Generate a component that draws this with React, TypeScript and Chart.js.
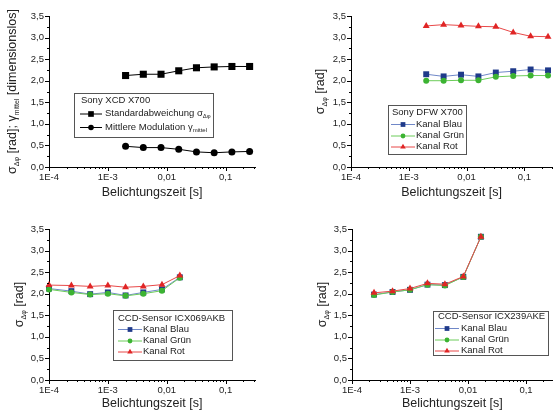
import React, { useEffect, useRef } from 'react';
import { Chart, registerables } from 'chart.js';
Chart.register(...registerables);

const FONT = "'Liberation Sans', Arial, Helvetica, sans-serif";

// ---------- data ----------
const timesSony = [0.002, 0.004, 0.008, 0.016, 0.032, 0.064, 0.128, 0.256];
const xcdStdDev = [2.12, 2.15, 2.15, 2.23, 2.30, 2.32, 2.33, 2.33];
const xcdModulation = [0.48, 0.45, 0.45, 0.41, 0.35, 0.33, 0.35, 0.36];
const dfwBlue = [2.15, 2.10, 2.14, 2.10, 2.19, 2.22, 2.26, 2.24];
const dfwGreen = [2.00, 2.00, 2.01, 2.01, 2.09, 2.11, 2.12, 2.12];
const dfwRed = [3.27, 3.30, 3.28, 3.26, 3.25, 3.12, 3.03, 3.02];
const times069 = [0.0001, 0.00024, 0.0005, 0.001, 0.002, 0.004, 0.0083, 0.0167];
const icx069Blue = [2.12, 2.06, 1.99, 2.03, 1.96, 2.03, 2.10, 2.38];
const icx069Green = [2.10, 2.03, 1.98, 2.00, 1.95, 2.00, 2.07, 2.37];
const icx069Red = [2.20, 2.19, 2.17, 2.19, 2.15, 2.17, 2.21, 2.42];
const times239 = [0.00024, 0.0005, 0.001, 0.002, 0.004, 0.0083, 0.0167];
const icx239Blue = [1.98, 2.04, 2.09, 2.21, 2.20, 2.39, 3.32];
const icx239Green = [1.97, 2.04, 2.09, 2.21, 2.19, 2.39, 3.32];
const icx239Red = [2.02, 2.06, 2.12, 2.24, 2.22, 2.40, 3.32];

const xMajorValues = [1e-4, 1e-3, 1e-2, 1e-1];
const xMajorLabels = ['1E-4', '1E-3', '0,01', '0,1'];
const yTickValues = [0, 0.5, 1, 1.5, 2, 2.5, 3, 3.5];
const yTickLabels = ['0,0', '0,5', '1,0', '1,5', '2,0', '2,5', '3,0', '3,5'];
const xTitle = 'Belichtungszeit [s]';

type Part = [string, boolean];
const yTitleSony: Part[] = [['σ', false], ['Δφ', true], [' [rad]; γ', false], ['mittel', true], [' [dimensionslos]', false]];
const yTitleRad: Part[] = [['σ', false], ['Δφ', true], [' [rad]', false]];

const legendXcdTitle = 'Sony XCD X700';
const legendXcdStd: Part[] = [['Standardabweichung σ', false], ['Δφ', true]];
const legendXcdMod: Part[] = [['Mittlere Modulation γ', false], ['mittel', true]];
const legendDfwTitle = 'Sony DFW X700';
const legend069Title = 'CCD-Sensor ICX069AKB';
const legend239Title = 'CCD-Sensor ICX239AKE';
const labelBlue: Part[] = [['Kanal Blau', false]];
const labelGreen: Part[] = [['Kanal Grün', false]];
const labelRed: Part[] = [['Kanal Rot', false]];

// ---------- styles ----------
const BLACK = { line: '#000000', point: '#000000' };
const BLUE = { line: '#7088c8', point: '#1f3a8a' };
const GREEN = { line: '#6ccc5a', point: '#3cb332' };
const RED = { line: '#e84848', point: '#e02525' };
const LEGEND_FONT = 9.5;
const TICK_FONT = 9.5;

type Series = { x: number[]; y: number[]; col: { line: string; point: string }; shape: string; r: number; order: number; label: Part[] };

function drawParts(ctx: CanvasRenderingContext2D, parts: Part[], x: number, y: number, size: number, subSize: number, align: 'left' | 'center') {
  const fontMain = `${size}px ${FONT}`;
  const fontSub = `${subSize}px ${FONT}`;
  let total = 0;
  const widths = parts.map(([t, sub]) => {
    ctx.font = sub ? fontSub : fontMain;
    const w = ctx.measureText(t).width;
    total += w;
    return w;
  });
  let cx = align === 'center' ? x - total / 2 : x;
  ctx.textAlign = 'left';
  ctx.textBaseline = 'middle';
  parts.forEach(([t, sub], i) => {
    ctx.font = sub ? fontSub : fontMain;
    ctx.fillText(t, cx, sub ? y + size * 0.35 : y);
    cx += widths[i];
  });
}

function drawMarker(ctx: CanvasRenderingContext2D, shape: string, x: number, y: number, r: number, color: string) {
  ctx.fillStyle = color;
  ctx.beginPath();
  if (shape === 'rect') {
    const s = r * Math.SQRT1_2;
    ctx.rect(x - s, y - s, 2 * s, 2 * s);
  } else if (shape === 'triangle') {
    ctx.moveTo(x, y - r);
    ctx.lineTo(x + r * 0.866, y + r * 0.5);
    ctx.lineTo(x - r * 0.866, y + r * 0.5);
    ctx.closePath();
  } else {
    ctx.arc(x, y, r, 0, Math.PI * 2);
  }
  ctx.fill();
}

type LegendCfg = { box: [number, number, number, number]; title: string; titleX: number; titleY: number; rows: number[]; lineX: [number, number]; textX: number };

type PanelProps = {
  left: number; top: number; width: number; height: number;
  area: { l: number; t: number; r: number; b: number };
  xMax: number;
  series: Series[];
  yTitle: Part[]; yTitleX: number; yTitleSize: number;
  xTitleY: number;
  legend: LegendCfg;
};

function Panel(p: PanelProps) {
  const ref = useRef<HTMLCanvasElement | null>(null);
  useEffect(() => {
    const canvas = ref.current!;
    const xTickVals: number[] = [];
    for (let e = -4; e <= -1; e++) {
      for (let m = 1; m <= 9; m++) {
        const v = m * Math.pow(10, e);
        if (v <= p.xMax * 1.0001) xTickVals.push(v);
      }
    }
    const isMajor = (v: number) => xMajorValues.findIndex((m) => Math.abs(m - v) / m < 1e-6);

    const deco = {
      id: 'deco',
      afterDraw(chart: any) {
        const ctx: CanvasRenderingContext2D = chart.ctx;
        const xs = chart.scales.x;
        const ys = chart.scales.y;
        const ca = chart.chartArea;
        ctx.save();
        ctx.strokeStyle = '#000';
        ctx.lineWidth = 1;
        ctx.beginPath();
        xTickVals.forEach((v) => {
          const px = Math.round(xs.getPixelForValue(v)) + 0.5;
          const len = isMajor(v) >= 0 ? 4 : 2;
          ctx.moveTo(px, ca.bottom);
          ctx.lineTo(px, ca.bottom + len);
        });
        for (let i = 0; i < yTickValues.length; i++) {
          const v = yTickValues[i];
          const py = Math.round(ys.getPixelForValue(v)) + 0.5;
          ctx.moveTo(ca.left, py);
          ctx.lineTo(ca.left - 4, py);
          if (i < yTickValues.length - 1) {
            const mv = (v + yTickValues[i + 1]) / 2;
            const pm = Math.round(ys.getPixelForValue(mv)) + 0.5;
            ctx.moveTo(ca.left, pm);
            ctx.lineTo(ca.left - 2, pm);
          }
        }
        ctx.stroke();

        // axis titles
        ctx.fillStyle = '#222';
        drawParts(ctx, [[xTitle, false]], (ca.left + ca.right) / 2, p.xTitleY, 12.5, 8, 'center');
        ctx.save();
        ctx.translate(p.yTitleX, (ca.top + ca.bottom) / 2);
        ctx.rotate(-Math.PI / 2);
        drawParts(ctx, p.yTitle, 0, 0, p.yTitleSize, 7, 'center');
        ctx.restore();

        // legend
        const L = p.legend;
        ctx.strokeStyle = '#555';
        ctx.lineWidth = 1;
        ctx.strokeRect(L.box[0] + 0.5, L.box[1] + 0.5, L.box[2], L.box[3]);
        ctx.fillStyle = '#222';
        drawParts(ctx, [[L.title, false]], L.titleX, L.titleY, LEGEND_FONT, 6, 'left');
        p.series.forEach((s, i) => {
          const y = L.rows[i];
          ctx.strokeStyle = s.col.line;
          ctx.lineWidth = 1;
          ctx.beginPath();
          ctx.moveTo(L.lineX[0], y + 0.5);
          ctx.lineTo(L.lineX[1], y + 0.5);
          ctx.stroke();
          drawMarker(ctx, s.shape, (L.lineX[0] + L.lineX[1]) / 2, y + 0.5, s.r * 0.8, s.col.point);
          ctx.fillStyle = '#222';
          drawParts(ctx, s.label, L.textX, y, LEGEND_FONT, 6, 'left');
        });
        ctx.restore();
      },
    };

    const chart = new Chart(canvas, {
      type: 'line',
      data: {
        datasets: p.series.map((s) => ({
          data: s.x.map((x, i) => ({ x, y: s.y[i] })),
          borderColor: s.col.line,
          backgroundColor: s.col.point,
          pointBackgroundColor: s.col.point,
          pointBorderColor: s.col.point,
          pointBorderWidth: 0,
          pointStyle: s.shape as any,
          pointRadius: s.r,
          borderWidth: 1,
          tension: 0,
          order: s.order,
          clip: false as any,
        })),
      },
      plugins: [deco],
      options: {
        animation: false,
        responsive: false,
        maintainAspectRatio: false,
        events: [],
        layout: { padding: { left: 0, top: p.area.t, right: p.width - p.area.r, bottom: 0 } },
        plugins: { legend: { display: false }, tooltip: { enabled: false }, title: { display: false } },
        scales: {
          x: {
            type: 'logarithmic',
            min: 1e-4,
            max: p.xMax,
            afterBuildTicks: (s: any) => { s.ticks = xTickVals.map((v) => ({ value: v })); },
            afterFit: (s: any) => { s.height = p.height - p.area.b; },
            ticks: {
              autoSkip: false, maxRotation: 0, minRotation: 0, padding: 5,
              color: '#222', font: { size: TICK_FONT, family: FONT },
              callback: (v: any) => { const k = isMajor(Number(v)); return k >= 0 ? xMajorLabels[k] : ''; },
            },
            grid: { display: false, drawTicks: false },
            border: { display: true, color: '#000', width: 1 },
          },
          y: {
            type: 'linear',
            min: 0,
            max: 3.5,
            afterBuildTicks: (s: any) => { s.ticks = yTickValues.map((v) => ({ value: v })); },
            afterFit: (s: any) => { s.width = p.area.l; },
            ticks: {
              padding: 5, color: '#222', font: { size: TICK_FONT, family: FONT },
              callback: (v: any) => { const k = yTickValues.findIndex((t) => Math.abs(t - Number(v)) < 1e-9); return k >= 0 ? yTickLabels[k] : ''; },
            },
            grid: { display: false, drawTicks: false },
            border: { display: true, color: '#000', width: 1 },
          },
        },
      } as any,
    });
    return () => chart.destroy();
  }, []);
  return (
    <canvas
      ref={ref}
      width={p.width}
      height={p.height}
      style={{ position: 'absolute', left: p.left, top: p.top, width: p.width, height: p.height }}
    />
  );
}

export default function App() {
  const rgb = (x: number[], b: number[], g: number[], r: number[]): Series[] => [
    { x, y: b, col: BLUE, shape: 'rect', r: 4.2, order: 2, label: labelBlue },
    { x, y: g, col: GREEN, shape: 'circle', r: 3, order: 1, label: labelGreen },
    { x, y: r, col: RED, shape: 'triangle', r: 4, order: 0, label: labelRed },
  ];
  return (
    <div style={{ position: 'absolute', left: 0, top: 0, width: 557, height: 414, background: '#fff', overflow: 'hidden' }}>
      <Panel
        left={0} top={0} width={278} height={207}
        area={{ l: 49, t: 16, r: 255, b: 167 }} xMax={0.316}
        series={[
          { x: timesSony, y: xcdStdDev, col: BLACK, shape: 'rect', r: 5, order: 0, label: legendXcdStd },
          { x: timesSony, y: xcdModulation, col: BLACK, shape: 'circle', r: 3.5, order: 1, label: legendXcdMod },
        ]}
        yTitle={yTitleSony} yTitleX={13} yTitleSize={12.5} xTitleY={193}
        legend={{ box: [74, 93, 139, 44], title: legendXcdTitle, titleX: 81, titleY: 100, rows: [113.5, 127], lineX: [80, 102], textX: 105 }}
      />
      <Panel
        left={278} top={0} width={279} height={207}
        area={{ l: 73, t: 16, r: 279, b: 167 }} xMax={0.3}
        series={rgb(timesSony, dfwBlue, dfwGreen, dfwRed)}
        yTitle={yTitleRad} yTitleX={43} yTitleSize={12.5} xTitleY={193}
        legend={{ box: [110, 105, 78, 49], title: legendDfwTitle, titleX: 114, titleY: 112.5, rows: [124, 135.5, 146.5], lineX: [113, 137], textX: 138 }}
      />
      <Panel
        left={0} top={207} width={278} height={207}
        area={{ l: 49, t: 22, r: 255, b: 173 }} xMax={0.316}
        series={rgb(times069, icx069Blue, icx069Green, icx069Red)}
        yTitle={yTitleRad} yTitleX={20} yTitleSize={12.5} xTitleY={197}
        legend={{ box: [113, 103, 119, 50], title: legend069Title, titleX: 118, titleY: 111.5, rows: [122, 133.5, 144.5], lineX: [118, 142], textX: 143 }}
      />
      <Panel
        left={278} top={207} width={279} height={207}
        area={{ l: 74, t: 22, r: 279, b: 173 }} xMax={0.29}
        series={rgb(times239, icx239Blue, icx239Green, icx239Red)}
        yTitle={yTitleRad} yTitleX={45} yTitleSize={12.5} xTitleY={197}
        legend={{ box: [155, 104, 115, 44], title: legend239Title, titleX: 160, titleY: 109.5, rows: [121, 132.5, 143.5], lineX: [157, 181], textX: 183 }}
      />
    </div>
  );
}
